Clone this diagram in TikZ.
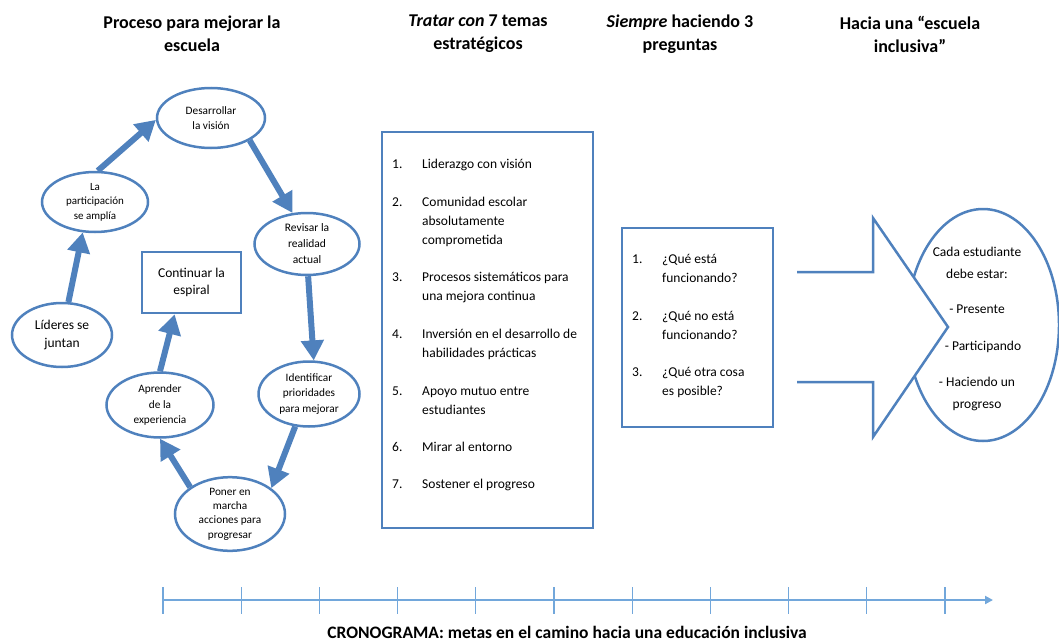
\documentclass[tikz,border=0pt]{standalone}
\usepackage{fontspec}
\setmainfont{Carlito}
\usetikzlibrary{arrows.meta,shapes.geometric}
\definecolor{azul}{HTML}{4F81BD}
\definecolor{azulclaro}{HTML}{72A7DB}

\begin{document}
\begin{tikzpicture}[x=1pt, y=-1pt,
    elipse/.style={ellipse, draw=azul, line width=2.5pt, fill=white, inner sep=0pt, align=center, font=\fontsize{11.3}{15.5}\selectfont},
    caja/.style={rectangle, draw=azul, line width=2.5pt, fill=white, inner sep=0pt},
    flecha/.style={azul, line width=6pt, -{Triangle[length=20pt,width=22pt]}},
    titulo/.style={align=center, font=\fontsize{18}{23}\selectfont\bfseries},
    punto/.style={anchor=north west, align=left, inner sep=0pt, font=\fontsize{13.5}{18.7}\selectfont}]

    \useasboundingbox (0,0) rectangle (1059,642);

    % Titulos
    \node[titulo] (tit1) at (192,34) {Proceso para mejorar la\\escuela};
    \node[titulo] (tit2) at (478,34) {{\itshape Tratar con} 7 temas\\estratégicos};
    \node[titulo] (tit3) at (680,34) {{\itshape Siempre} haciendo 3\\preguntas};
    \node[titulo] (tit4) at (910,34) {Hacia una “escuela\\inclusiva”};

    % Espiral de mejora
    \node[elipse, minimum width=108, minimum height=60] (des) at (211,118) {Desarrollar\\la visión};
    \node[elipse, minimum width=106, minimum height=60, font=\fontsize{11}{14.5}\selectfont] (par) at (95,202) {La\\participación\\se amplía};
    \node[elipse, minimum width=105, minimum height=62, font=\fontsize{11.5}{16}\selectfont] (rev) at (307,244) {Revisar la\\realidad\\actual};
    \node[elipse, minimum width=100, minimum height=64, font=\fontsize{13.5}{18}\selectfont] (lid) at (62,335) {Líderes se\\juntan};
    \node[caja, minimum width=99, minimum height=61, align=center, font=\fontsize{13.5}{17}\selectfont] (con) at (191.5,282.5) {Continuar la\\espiral};
    \node[elipse, minimum width=101, minimum height=65] (ide) at (309,394) {Identificar\\prioridades\\para mejorar};
    \node[elipse, minimum width=107, minimum height=65] (apr) at (160,405) {Aprender\\de la\\experiencia};
    \node[elipse, minimum width=110, minimum height=62, font=\fontsize{11.3}{14.3}\selectfont] (pon) at (230,514) {Poner en\\marcha\\acciones para\\progresar};

    \draw[flecha] (lid.79) -- (par.-112);
    \draw[flecha] (par.85) -- (des.182);
    \draw[flecha] (des.-30) -- (rev.115);
    \draw[flecha] (rev.-88) -- (ide.82);
    \draw[flecha] (ide.-113) -- (pon.32);
    \draw[flecha] (pon.146) -- (apr.-90);
    \draw[flecha] (apr.90) -- (con.-118);

    % 7 temas estrategicos
    \node[caja, minimum width=211, minimum height=396] (temas) at (487.5,330) {};
    \foreach \n/\y/\txt in {1/165/{Liderazgo con visión},
                            2/203/{Comunidad escolar\\absolutamente\\comprometida},
                            3/278/{Procesos sistemáticos para\\una mejora continua},
                            4/335/{Inversión en el desarrollo de\\habilidades prácticas},
                            5/392/{Apoyo mutuo entre\\estudiantes},
                            6/448/{Mirar al entorno},
                            7/485/{Sostener el progreso}} {
        \node[punto] (num\n) at (392,\y-9.5) {\strut\n.};
        \node[punto] (tema\n) at (422,\y-9.5) {\strut\txt};
    }

    % 3 preguntas
    \node[caja, minimum width=151, minimum height=199] (preg) at (697.5,327.5) {};
    \foreach \n/\y/\txt in {1/260/{¿Qué está\\funcionando?},
                            2/317/{¿Qué no está\\funcionando?},
                            3/373/{¿Qué otra cosa\\es posible?}} {
        \node[punto] (pnum\n) at (632,\y-9.5) {\strut\n.};
        \node[punto] (preg\n) at (662,\y-9.5) {\strut\txt};
    }

    % Flecha hacia la escuela inclusiva
    \node[elipse, minimum width=152, minimum height=232] (incl) at (983,325) {};
    \draw[azul, line width=2.5pt, fill=white] (797,272) -- (873,272) -- (873,218)
        -- (948,327) -- (873,437) -- (873,382) -- (797,382);
    \node[align=center, inner sep=0pt, font=\fontsize{13.5}{22}\selectfont] (meta) at (977,329)
        {Cada estudiante\\debe estar:\\[13pt]- Presente\\[15pt]\hspace*{12pt}- Participando\\[14pt]- Haciendo un\\progreso};

    % Cronograma
    \coordinate (ini) at (163,600);
    \coordinate (fin) at (993,600);
    \draw[azulclaro, line width=2pt, -{Triangle[length=8pt,width=8pt]}] (ini) -- (fin);
    \foreach \i in {0,...,10} {
        \draw[azulclaro, line width=1.3pt] (163+78.2*\i,587) -- (163+78.2*\i,614);
    }
    \node[font=\fontsize{17.5}{20}\selectfont\bfseries] (crono) at (567,632) {CRONOGRAMA: metas en el camino hacia una educación inclusiva};
\end{tikzpicture}
\end{document}
